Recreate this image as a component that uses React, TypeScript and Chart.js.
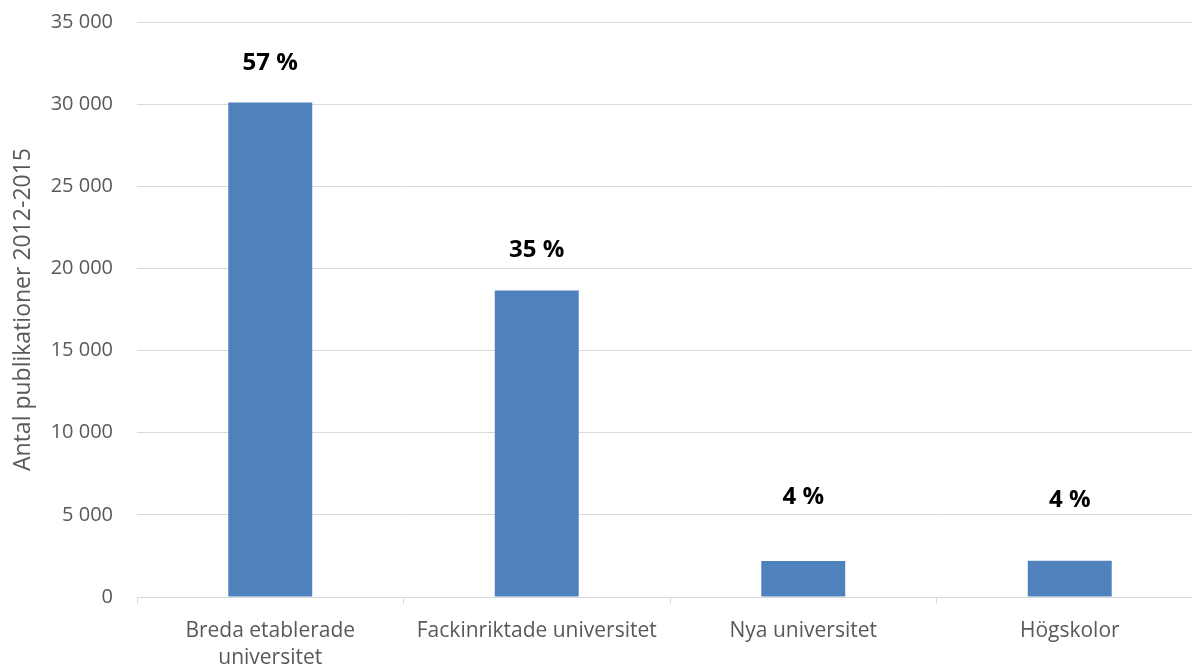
import React, { useEffect, useRef } from "react";
import { Chart, registerables } from "chart.js";

Chart.register(...registerables);

const categories: (string | string[])[] = [
  ["Breda etablerade", "universitet"],
  "Fackinriktade universitet",
  "Nya universitet",
  "Högskolor",
];
const publications = [30100, 18650, 2190, 2200];
const shareLabels = ["57 %", "35 %", "4 %", "4 %"];
const shareLabelPositions = [32480, 21100, 6090, 5890];
const yMin = 0;
const yMax = 35000;
const yStep = 5000;
const yTitle = "Antal publikationer 2012-2015";

const FONT = "'Open Sans', Lato, sans-serif";

const formatThousands = (v: number) =>
  String(Math.round(v)).replace(/\B(?=(\d{3})+(?!\d))/g, " ");

const shareLabelPlugin = {
  id: "shareLabels",
  afterDatasetsDraw(chart: any) {
    const ctx = chart.ctx;
    const meta = chart.getDatasetMeta(0);
    const yScale = chart.scales.y;
    ctx.save();
    ctx.fillStyle = "#000000";
    ctx.font = `bold 24px ${FONT}`;
    ctx.textAlign = "center";
    ctx.textBaseline = "middle";
    meta.data.forEach((bar: any, i: number) => {
      ctx.fillText(shareLabels[i], bar.x, yScale.getPixelForValue(shareLabelPositions[i]));
    });
    ctx.restore();
  },
};

export default function App() {
  const canvasRef = useRef<HTMLCanvasElement | null>(null);

  useEffect(() => {
    if (!canvasRef.current) return;
    const chart = new Chart(canvasRef.current, {
      type: "bar",
      data: {
        labels: categories,
        datasets: [
          {
            data: publications,
            backgroundColor: "#4f81bd",
            borderWidth: 0,
            barPercentage: 0.315,
            categoryPercentage: 1,
          },
        ],
      },
      options: {
        animation: false,
        responsive: false,
        devicePixelRatio: 1,
        layout: { padding: { top: 22, right: 1, left: 0, bottom: 0 } },
        plugins: {
          legend: { display: false },
          tooltip: { enabled: false },
        },
        scales: {
          x: {
            grid: {
              display: true,
              drawOnChartArea: false,
              drawTicks: true,
              tickLength: 7,
              color: "#d9d9d9",
              offset: true,
            },
            border: { display: true, color: "#d9d9d9", width: 1 },
            ticks: {
              color: "#595959",
              font: { family: FONT, size: 21, lineHeight: 1.3 },
              padding: 13,
              maxRotation: 0,
              autoSkip: false,
            },
            afterFit(scale: any) {
              scale.height = 69;
              scale.paddingLeft = 0;
              scale.paddingRight = 0;
            },
          },
          y: {
            min: yMin,
            max: yMax,
            grid: { color: "#d9d9d9", drawTicks: false, lineWidth: 1 },
            border: { display: false },
            ticks: {
              stepSize: yStep,
              color: "#595959",
              font: { family: FONT, size: 20 },
              padding: 24,
              callback: (v: any) => formatThousands(Number(v)),
            },
            title: {
              display: true,
              text: yTitle,
              color: "#595959",
              font: { family: FONT, size: 23 },
              padding: { top: 10, bottom: 0 },
            },
            afterFit(scale: any) {
              scale.width = 137;
              scale.paddingTop = 0;
              scale.paddingBottom = 0;
            },
          },
        },
      },
      plugins: [shareLabelPlugin],
    });
    return () => chart.destroy();
  }, []);

  return (
    <div
      style={{
        position: "fixed",
        left: 0,
        top: 0,
        width: 1192,
        height: 666,
        overflow: "hidden",
        background: "#ffffff",
      }}
    >
      <canvas ref={canvasRef} width={1204} height={666} style={{ display: "block" }} />
    </div>
  );
}
